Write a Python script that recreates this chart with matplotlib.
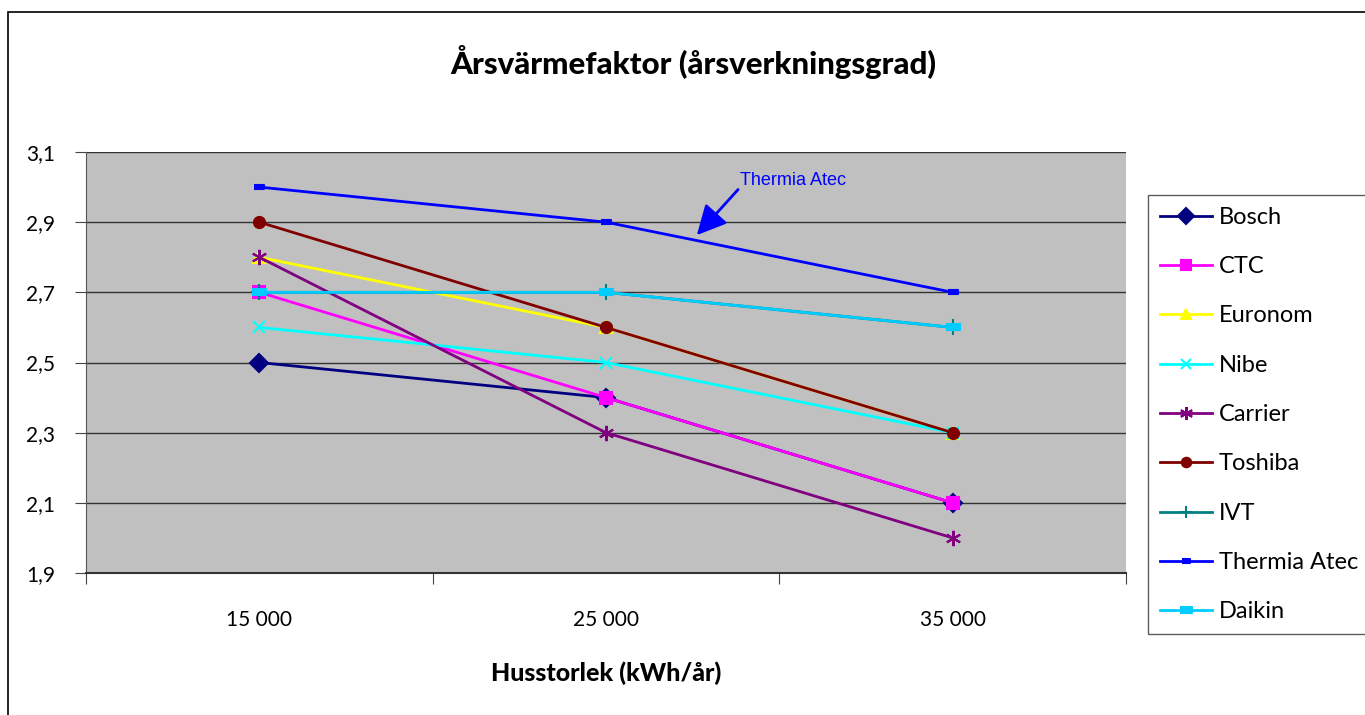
import matplotlib
matplotlib.use("Agg")
import matplotlib.pyplot as plt
from matplotlib.patches import Rectangle

categories = ["15 000", "25 000", "35 000"]
yticks = [1.9, 2.1, 2.3, 2.5, 2.7, 2.9, 3.1]
ytick_labels = ["1,9", "2,1", "2,3", "2,5", "2,7", "2,9", "3,1"]

bosch = [2.5, 2.4, 2.1]
ctc = [2.7, 2.4, 2.1]
euronom = [2.8, 2.6, 2.3]
nibe = [2.6, 2.5, 2.3]
carrier = [2.8, 2.3, 2.0]
toshiba = [2.9, 2.6, 2.3]
ivt = [2.7, 2.7, 2.6]
thermia = [3.0, 2.9, 2.7]
daikin = [2.7, 2.7, 2.6]

plt.rcParams['font.family'] = ['Lato', 'DejaVu Sans']

rect_small = [(-1, -0.5), (1, -0.5), (1, 0.5), (-1, 0.5)]

series = [
    ("Bosch", bosch, "#000080", "D", 9),
    ("CTC", ctc, "#FF00FF", "s", 8),
    ("Euronom", euronom, "#FFFF00", "^", 9),
    ("Nibe", nibe, "#00FFFF", "x", 9),
    ("Carrier", carrier, "#800080", (6, 2, 0), 11),
    ("Toshiba", toshiba, "#800000", "o", 8),
    ("IVT", ivt, "#008080", "+", 11),
    ("Thermia Atec", thermia, "#0000FF", rect_small, 7),
    ("Daikin", daikin, "#00CCFF", rect_small, 10),
]

fig = plt.figure(figsize=(13.65, 7.15), dpi=100)
fig.patches.append(Rectangle((8 / 1365, -0.01), 1.1, 1 - 12 / 715 + 0.01,
                             transform=fig.transFigure, fill=False,
                             edgecolor="black", linewidth=1.2))

ax = fig.add_axes([86 / 1365, 1 - 573 / 715, 1040 / 1365, 421 / 715])
ax.set_facecolor("#C0C0C0")

x = list(range(len(categories)))
for name, vals, color, marker, ms in series:
    ax.plot(x, vals, color=color, linewidth=2.0, marker=marker, markersize=ms,
            markeredgecolor=color, markerfacecolor=color, markeredgewidth=1.5,
            label=name, zorder=3)

ax.set_xlim(-0.5, 2.5)
ax.set_ylim(1.9, 3.1)
ax.set_yticks(yticks)
ax.set_yticklabels(ytick_labels)
ax.yaxis.grid(True, color="#333333", linewidth=1.0)
ax.set_axisbelow(True)

ax.set_xticks([-0.5, 0.5, 1.5, 2.5])
ax.set_xticklabels([])
ax.set_xticks(x, minor=True)
ax.set_xticklabels(categories, minor=True)
ax.tick_params(axis="x", which="minor", length=0, pad=27, labelsize=15)
ax.tick_params(axis="x", which="major", length=8, color="#444444", direction="out")
ax.tick_params(axis="y", length=8, color="#444444", direction="out", pad=14,
               labelsize=15)

for s in ["top", "right"]:
    ax.spines[s].set_visible(False)
ax.spines["left"].set_color("#555555")
ax.spines["bottom"].set_color("#333333")
ax.spines["bottom"].set_linewidth(1.5)

ax.set_xlabel("Husstorlek (kWh/år)", fontsize=18, fontweight="black", labelpad=22)
fig.text(693 / 1365, 1 - 62 / 715, "Årsvärmefaktor (årsverkningsgrad)",
         fontsize=22.5, fontweight="black", ha="center", va="center")

ax.text(1.386, 3.02, "Thermia Atec", color="#0000FF", fontsize=13,
        family="Liberation Sans", ha="left", va="center")
ax.annotate("", xy=(1.262, 2.863), xytext=(1.381, 2.993),
            arrowprops=dict(arrowstyle="-|>,head_length=0.9,head_width=0.45",
                            color="#0000FF", lw=2, mutation_scale=20,
                            shrinkA=0, shrinkB=0))

leg = ax.legend(loc="upper left", bbox_to_anchor=(1148 / 1365, 1 - 195 / 715),
                bbox_transform=fig.transFigure, frameon=True, fancybox=False,
                edgecolor="#333333", fontsize=17, handlelength=2.2,
                labelspacing=1.2, borderpad=0.5, handletextpad=0.3,
                borderaxespad=0, markerscale=0.85)
leg.get_frame().set_linewidth(1.0)

fig.savefig("out.png", dpi=100, facecolor="white")
